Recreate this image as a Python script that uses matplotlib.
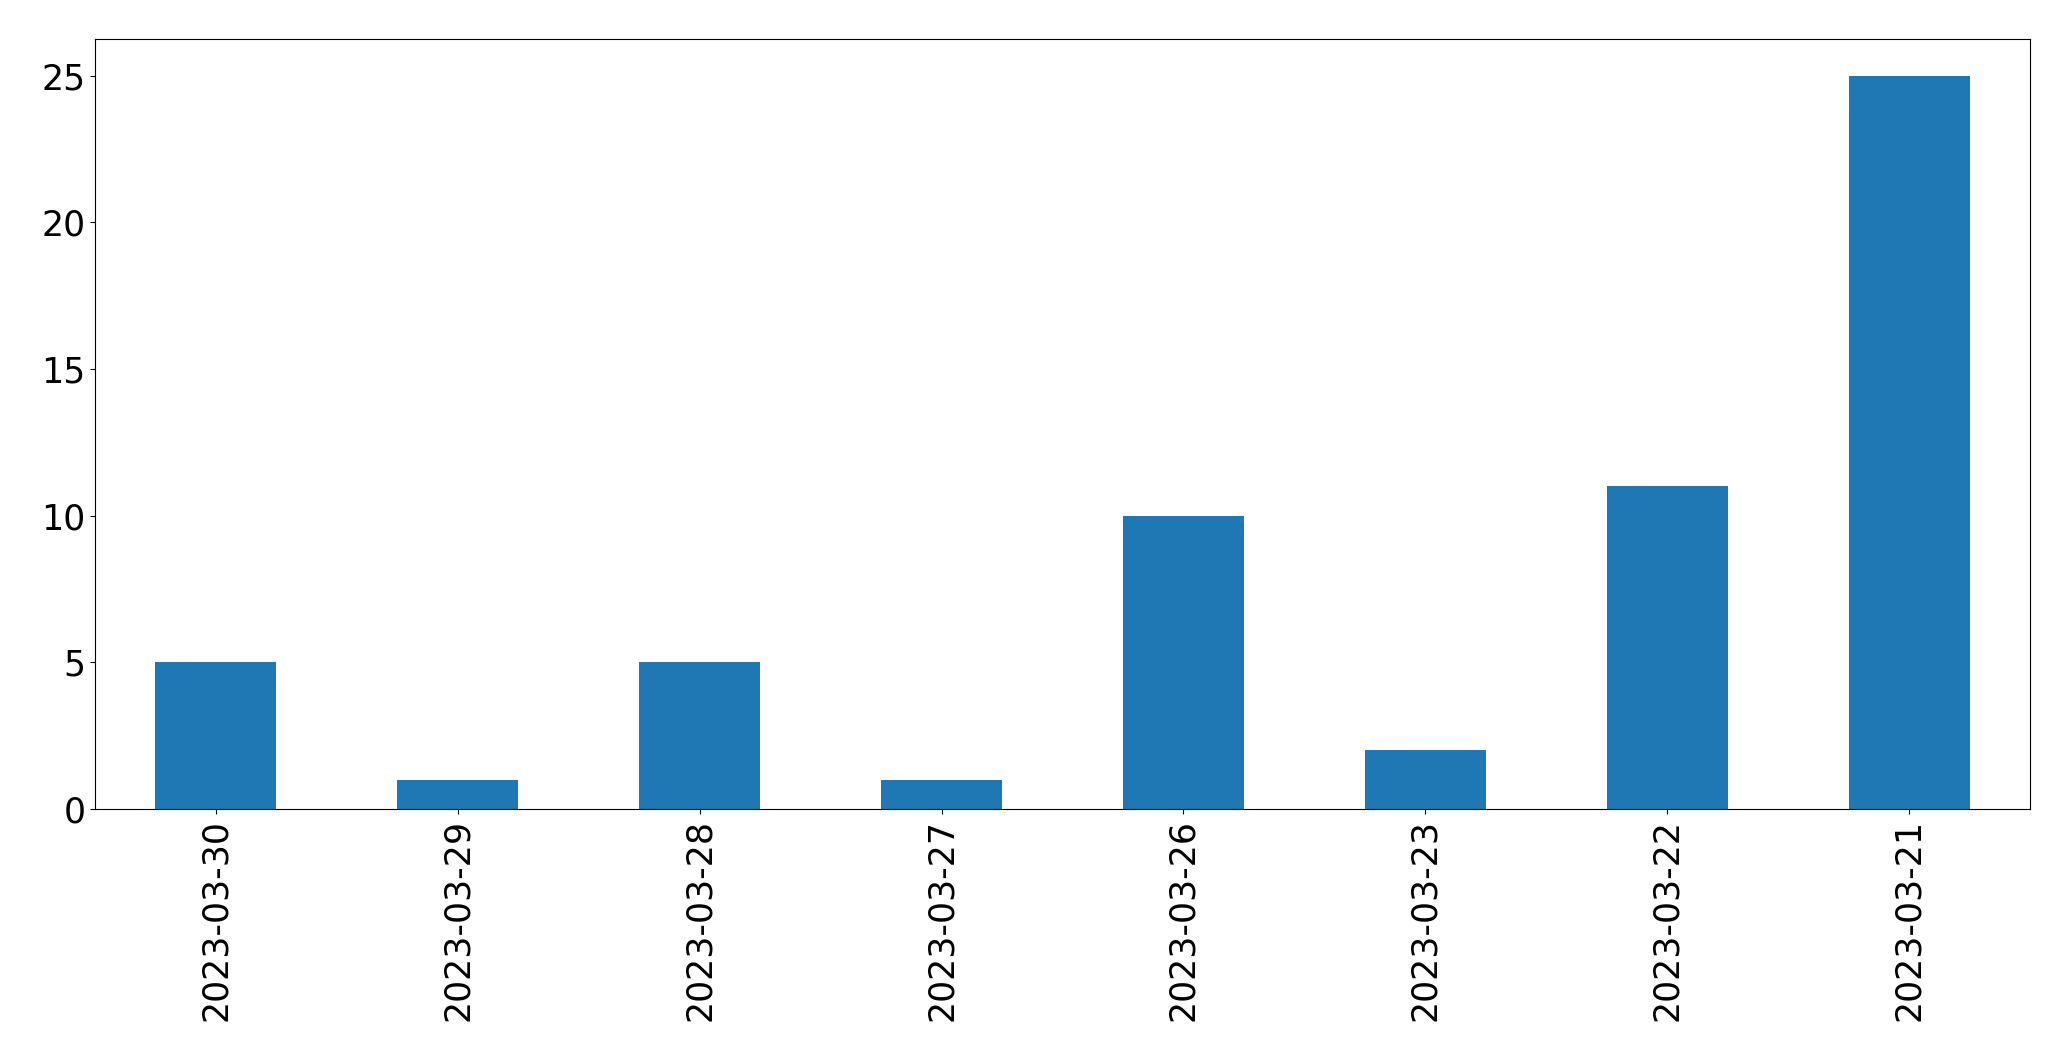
import matplotlib
matplotlib.use("Agg")
import matplotlib.pyplot as plt

dates = ["2023-03-30", "2023-03-29", "2023-03-28", "2023-03-27",
         "2023-03-26", "2023-03-23", "2023-03-22", "2023-03-21"]
counts = [5, 1, 5, 1, 10, 2, 11, 25]

fig = plt.figure(figsize=(20.71, 10.61), dpi=100)
ax = fig.add_axes([95/2071, 1-809/1061, (2030-95)/2071, (809-39)/1061])
x = list(range(len(dates)))
ax.bar(x, counts, width=0.5, color="#1f77b4")
ax.set_xticks(x)
ax.set_xticklabels(dates, rotation=90)
ax.set_xlim(-0.5, len(dates) - 0.5)
ax.set_ylim(0, max(counts) * 1.05)
ax.set_yticks([0, 5, 10, 15, 20, 25])
ax.tick_params(labelsize=25)
fig.savefig("out.png", dpi=100)
